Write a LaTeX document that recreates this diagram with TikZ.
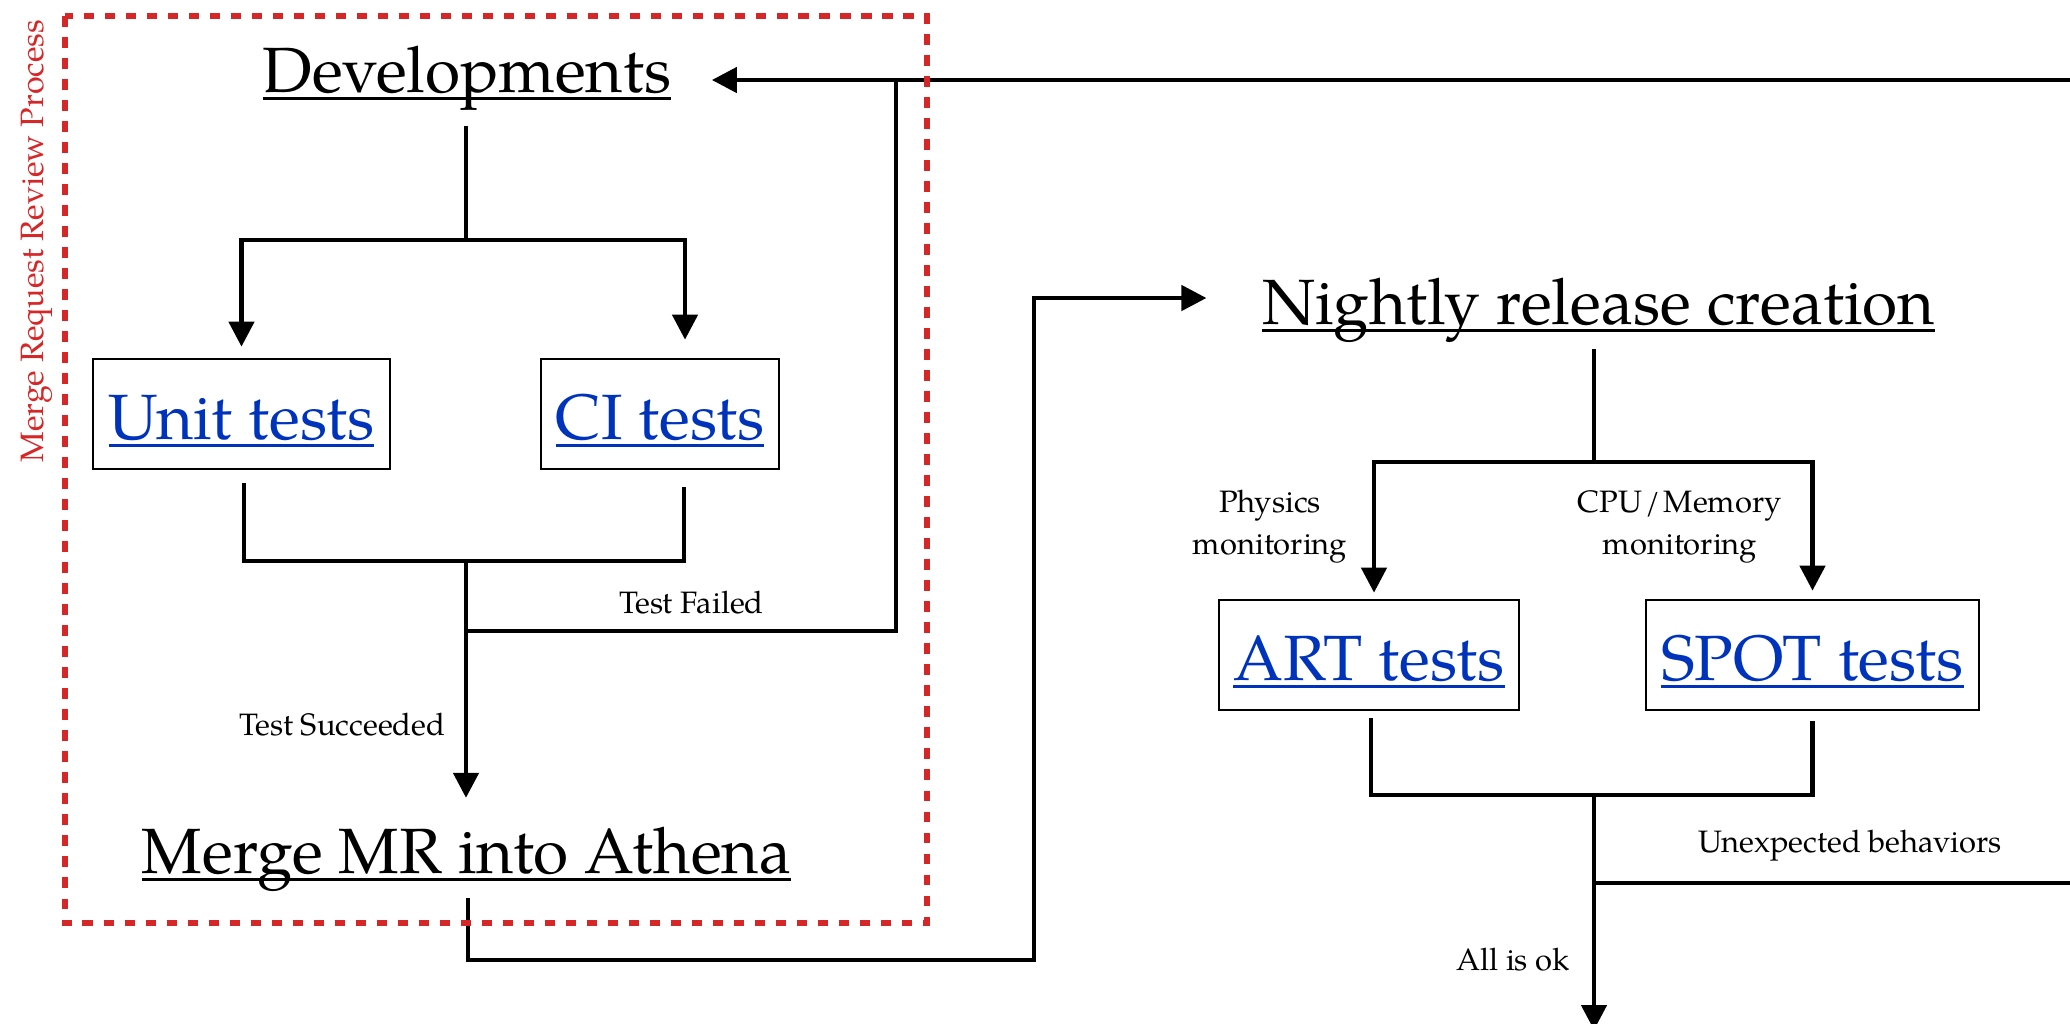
\documentclass[tikz,border=0pt]{standalone}
\usepackage{fontspec}
\setmainfont{TeX Gyre Pagella}
\usetikzlibrary{arrows.meta}
\definecolor{mrred}{RGB}{214,39,40}
\definecolor{linkblue}{RGB}{0,51,187}
\newcommand\myul[1]{\setbox0=\hbox{#1}\rlap{\rule[-0.075cm]{\wd0}{0.03cm}}\box0}
\tikzset{
  title/.style={inner sep=0pt, font=\fontsize{18.2}{22}\selectfont, anchor=base},
  testbox/.style={draw, line width=0.75pt, inner sep=0pt, font=\fontsize{18.2}{22}\selectfont,
    text=linkblue, text height=0.6cm, text depth=0.1cm, minimum height=1.1cm},
  lbl/.style={inner sep=0pt, font=\fontsize{8.8}{12}\selectfont, anchor=base, align=center},
  mrlabel/.style={inner sep=0pt, font=\fontsize{9.2}{11}\selectfont, text=mrred},
  mrbox/.style={draw=mrred, line width=1.45pt, dash pattern=on 0.105cm off 0.105cm},
  flow/.style={line width=1.3pt},
  arr/.style={flow, -{Triangle[length=0.25cm,width=0.25cm]}},
}
\begin{document}
\begin{tikzpicture}[x=0.01cm,y=-0.01cm]
\useasboundingbox (0,0) rectangle (2070,1023);

% main nodes
\node[title] (dev) at (467,92) {\myul{Developments}};
\node[title] (merge) at (466.5,873) {\myul{Merge MR into Athena}};
\node[title] (night) at (1598.5,324) {\myul{Nightly release creation}};
\node[testbox, minimum width=2.97cm] (unit) at (241.5,414) {\myul{Unit tests}};
\node[testbox, minimum width=2.38cm] (ci) at (660,414) {\myul{CI tests}};
\node[testbox, minimum width=3.00cm] (art) at (1369,655) {\myul{ART tests}};
\node[testbox, minimum width=3.33cm] (spot) at (1812.5,655) {\myul{SPOT tests}};

% labels
\node[lbl] (tfl) at (691.5,613) {Test Failed};
\node[lbl] (tsl) at (342.5,735) {Test Succeeded};
\node[lbl, anchor=center] (phy) at (1270,527) {Physics\\monitoring};
\node[lbl, anchor=center] (cpu) at (1680,527) {CPU\kern0.1em/\kern0.1em Memory\\monitoring};
\node[lbl] (unx) at (1850,852) {Unexpected behaviors};
\node[lbl] (ok) at (1513,970) {All is ok};

% junction coordinates
\coordinate (devF) at (466,240);
\coordinate (j1) at (466,561);
\coordinate (j2) at (466,631);
\coordinate (tf) at (896,80);
\coordinate (topR) at (2070,80);
\coordinate (m1) at (1034,960);
\coordinate (c2) at (1034,298);
\coordinate (nF) at (1594,462);
\coordinate (nJ) at (1594,795);
\coordinate (bot) at (1594,1030);
\coordinate (u1) at (1594,883);
\coordinate (u2) at (2070,883);

% left flow
\draw[flow] (devF |- dev.south) ++(0,15) -- (devF);
\draw[arr, shorten >=0.11cm] (devF) -| (unit.north);
\draw[arr, shorten >=0.18cm] (devF) -| ([xshift=0.25cm]ci.north);
\draw[flow] ([shift={(0.025cm,-0.13cm)}]unit.south) |- (j1);
\draw[flow] ([shift={(0.24cm,-0.17cm)}]ci.south) |- (j1);
\draw[arr, shorten >=0.28cm] (j1) -- (j1 |- merge.north);
\draw[flow] (j2) -| (tf);
\draw[arr, shorten >=0.40cm] (topR) -- (dev.east |- topR);
\draw[arr, shorten >=0.55cm] ([shift={(0.015cm,-0.06cm)}]merge.south) |- (m1) -- (c2) -- (night.west |- c2);

% right flow
\draw[flow] (nF |- night.south) ++(0,6) -- (nF);
\draw[arr, shorten >=0.06cm] (nF) -| ([xshift=0.05cm]art.north);
\draw[arr, shorten >=0.08cm] (nF) -| (spot.north);
\draw[flow] ([shift={(0.02cm,-0.07cm)}]art.south) |- (nJ);
\draw[flow] ([shift={(0cm,-0.10cm)}]spot.south) |- (nJ);
\draw[arr] (nJ) -- (bot);
\draw[flow] (u1) -- (u2);

% merge request review box
\draw[mrbox] (65,16) rectangle (927,923);
\node[mrlabel, rotate=90, anchor=base] (mrr) at (43,241) {Merge Request Review Process};
\end{tikzpicture}
\end{document}
